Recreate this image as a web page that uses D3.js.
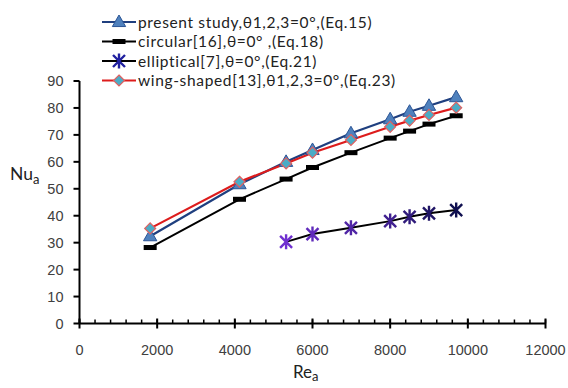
<!DOCTYPE html>
<html><head><meta charset="utf-8">
<script src="https://cdn.jsdelivr.net/npm/d3@7"></script>
<style>body{margin:0;background:#fff}svg{display:block}</style>
</head><body>
<svg id="c" width="568" height="388"></svg>
<script>
const reX = [1820, 4120, 5320, 6000, 6990, 8000, 8500, 9000, 9700];
const presentStudy = [32.4, 51.7, 60.0, 64.4, 70.6, 75.8, 78.6, 80.8, 84.0];
const circular = [28.2, 46.1, 53.6, 57.9, 63.4, 68.8, 71.4, 74.0, 77.1];
const wingShaped = [35.3, 52.6, 59.4, 63.4, 68.1, 73.0, 75.3, 77.4, 80.1];
const ellipticalX = [5320, 6000, 6990, 8000, 8500, 9000, 9700];
const elliptical = [30.3, 33.2, 35.5, 38.0, 39.6, 40.9, 42.1];
const xTicks = [0, 2000, 4000, 6000, 8000, 10000, 12000];
const yTicks = [0, 10, 20, 30, 40, 50, 60, 70, 80, 90];
const legendLabels = [
  "present study,θ1,2,3=0°,(Eq.15)",
  "circular[16],θ=0° ,(Eq.18)",
  "elliptical[7],θ=0°,(Eq.21)",
  "wing-shaped[13],θ1,2,3=0°,(Eq.23)"
];

const svg = d3.select("#c");
const x = d3.scaleLinear().domain([0, 12000]).range([79.5, 545.5]);
const y = d3.scaleLinear().domain([0, 90]).range([323.5, 81]);
const tickFont = "'Liberation Sans', Arial, sans-serif";
const lblFont = "Lato, 'Open Sans', sans-serif";

// axes
const xAxis = svg.append("g").attr("transform", `translate(0,${y(0)})`);
xAxis.append("line").attr("x1", x(0)).attr("x2", x(12000)).attr("stroke", "#000").attr("stroke-width", 2);
const minor = d3.range(0, 12001, 400);
xAxis.selectAll("line.mn").data(minor).join("line").attr("class", "mn")
  .attr("x1", d => x(d)).attr("x2", d => x(d)).attr("y1", 0).attr("y2", -4)
  .attr("stroke", "#000").attr("stroke-width", 1.5);
xAxis.selectAll("line.mj").data(xTicks).join("line").attr("class", "mj")
  .attr("x1", d => x(d)).attr("x2", d => x(d)).attr("y1", -5).attr("y2", 5)
  .attr("stroke", "#000").attr("stroke-width", 2);
xAxis.selectAll("text").data(xTicks).join("text")
  .attr("x", d => x(d)).attr("y", 31).attr("text-anchor", "middle")
  .attr("font-family", tickFont).attr("font-size", 14.5).attr("fill", "#404040")
  .text(d => d);

const yAxis = svg.append("g").attr("transform", `translate(${x(0)},0)`);
yAxis.append("line").attr("y1", y(0)).attr("y2", y(90)).attr("stroke", "#000").attr("stroke-width", 2);
yAxis.selectAll("line.t").data(yTicks).join("line").attr("class", "t")
  .attr("x1", -6).attr("x2", 0).attr("y1", d => y(d)).attr("y2", d => y(d))
  .attr("stroke", "#000").attr("stroke-width", 2);
yAxis.selectAll("text").data(yTicks).join("text")
  .attr("x", -16).attr("y", d => y(d) + 5).attr("text-anchor", "end")
  .attr("font-family", tickFont).attr("font-size", 14.5).attr("fill", "#404040")
  .text(d => d);

// axis titles
const xt = svg.append("text").attr("x", 293).attr("y", 378)
  .attr("font-family", lblFont).attr("font-size", 17).attr("fill", "#222");
xt.append("tspan").text("Re");
xt.append("tspan").attr("dy", 3).attr("font-size", 13).text("a");
const yt = svg.append("text").attr("x", 10).attr("y", 180)
  .attr("font-family", lblFont).attr("font-size", 17.5).attr("fill", "#222");
yt.append("tspan").text("Nu");
yt.append("tspan").attr("dy", 4).attr("font-size", 13).text("a");

// marker helpers
function triangle(g, cx, cy, s) {
  g.append("path").attr("d", `M${cx},${cy - s} L${cx + s * 0.95},${cy + s * 0.65} L${cx - s * 0.95},${cy + s * 0.65} Z`)
    .attr("fill", "#4f81bd").attr("stroke", "#2c5596").attr("stroke-width", 1);
}
function rect(g, cx, cy) {
  g.append("rect").attr("x", cx - 6.5).attr("y", cy - 2.5).attr("width", 13).attr("height", 5).attr("fill", "#000");
}
function diamond(g, cx, cy, s) {
  g.append("path").attr("d", `M${cx},${cy - s} L${cx + s},${cy} L${cx},${cy + s} L${cx - s},${cy} Z`)
    .attr("fill", "#4bacc6").attr("stroke", "#e06060").attr("stroke-width", 1.2);
}
function star(g, cx, cy, s, col) {
  const d = `M${cx - s},${cy - s} L${cx + s},${cy + s} M${cx + s},${cy - s} L${cx - s},${cy + s} M${cx},${cy - s * 1.25} L${cx},${cy + s * 1.25}`;
  g.append("path").attr("d", d).attr("stroke", col).attr("stroke-width", 2.4).attr("fill", "none");
}

const line = d3.line().x(d => x(d[0])).y(d => y(d[1]));
const plot = svg.append("g");

plot.append("path").datum(d3.zip(reX, circular)).attr("d", line).attr("fill", "none").attr("stroke", "#000").attr("stroke-width", 2);
plot.append("path").datum(d3.zip(ellipticalX, elliptical)).attr("d", line).attr("fill", "none").attr("stroke", "#000").attr("stroke-width", 2);
plot.append("path").datum(d3.zip(reX, presentStudy)).attr("d", line).attr("fill", "none").attr("stroke", "#1f3f7f").attr("stroke-width", 2.2);
plot.append("path").datum(d3.zip(reX, wingShaped)).attr("d", line).attr("fill", "none").attr("stroke", "#dd1c1c").attr("stroke-width", 2.2);

reX.forEach((v, i) => rect(plot, x(v), y(circular[i])));
const starCol = d3.scaleLinear().domain([0, ellipticalX.length - 1]).range(["#7030d0", "#101050"]);
ellipticalX.forEach((v, i) => star(plot, x(v), y(elliptical[i]), 6, starCol(i)));
reX.forEach((v, i) => triangle(plot, x(v), y(presentStudy[i]), 7));
reX.forEach((v, i) => diamond(plot, x(v), y(wingShaped[i]), 5.5));

// legend
const lg = svg.append("g");
const rowY = [22, 41.5, 61, 80.5];
const lx1 = 102, lx2 = 136;
const lineCols = ["#1f3f7f", "#000", "#000", "#dd1c1c"];
rowY.forEach((ry, i) => {
  lg.append("line").attr("x1", lx1).attr("x2", lx2).attr("y1", ry).attr("y2", ry)
    .attr("stroke", lineCols[i]).attr("stroke-width", 2.2);
  const mx = (lx1 + lx2) / 2;
  if (i === 0) triangle(lg, mx, ry, 7);
  if (i === 1) rect(lg, mx, ry);
  if (i === 2) star(lg, mx, ry, 6, "#2020a0");
  if (i === 3) diamond(lg, mx, ry, 5.5);
  lg.append("text").attr("x", 138).attr("y", ry + 5.5)
    .attr("font-family", lblFont).attr("font-size", 15.5).attr("letter-spacing", 0.65).attr("fill", "#222")
    .text(legendLabels[i]);
});
</script>
</body></html>
